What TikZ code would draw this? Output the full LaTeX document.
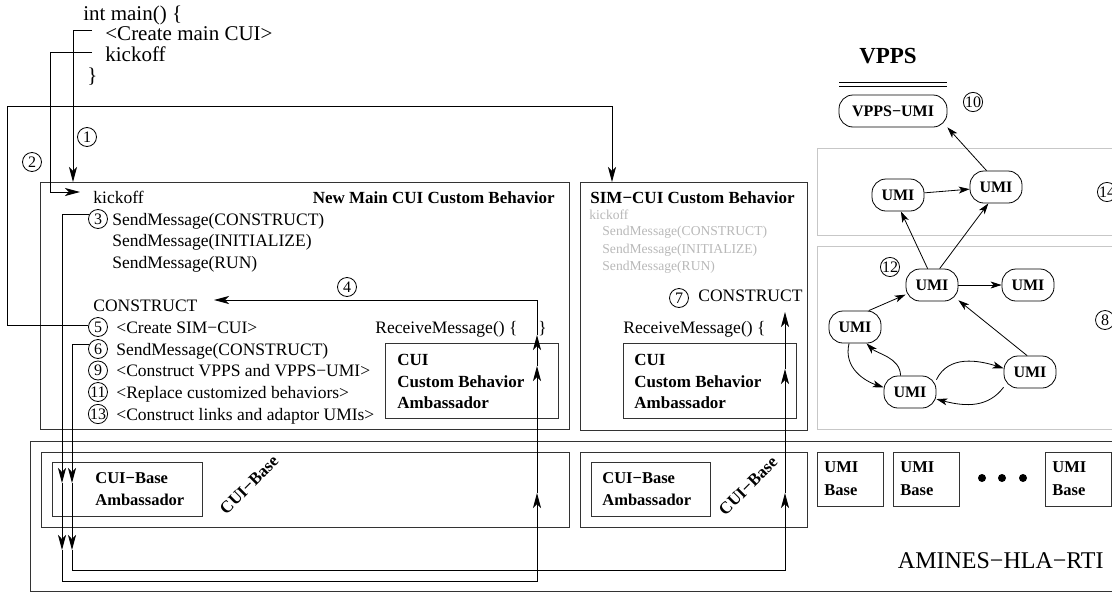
\documentclass[tikz,border=0pt]{standalone}
\usepackage{fontspec}
\setmainfont{Liberation Serif}
\usetikzlibrary{arrows.meta,calc}
\newcommand\fsz[2]{\fontsize{#1}{#2}\selectfont}
\begin{document}
\begin{tikzpicture}[x=1pt,y=-1pt,line width=0.8pt,
  tip/.style={-{Stealth[length=15pt,width=8pt,inset=4pt]}},
  gtip/.style={-{Stealth[length=11pt,width=7pt,inset=3pt]}},
  frame/.style={draw=black!80,anchor=north west,inner sep=0pt,outer sep=0pt},
  gframe/.style={draw=black!22,anchor=north west,inner sep=0pt,outer sep=0pt},
  txt/.style={anchor=base west,inner sep=0pt,font=\fsz{17.5}{21}},
  big/.style={anchor=base west,inner sep=0pt,font=\fsz{21}{25}},
  bld/.style={anchor=base west,inner sep=0pt,font=\fsz{17}{21}\bfseries},
  sbld/.style={anchor=base west,inner sep=0pt,font=\fsz{16.5}{19}\bfseries},
  gtxt/.style={anchor=base west,inner sep=0pt,font=\fsz{13.6}{16},text=black!28},
  num/.style={circle,draw,inner sep=0pt,minimum size=19pt,font=\fsz{16}{16}},
  umi/.style={draw,rounded corners=14pt,minimum width=52pt,minimum height=32pt,inner sep=2pt,font=\fsz{16}{16}\bfseries},
]
\useasboundingbox (0,0) rectangle (1112,592);

% ---------- frames ----------
\node[frame,minimum width=529pt,minimum height=247pt] (mainbox) at (40,182) {};
\node[frame,minimum width=227pt,minimum height=248pt] (simbox) at (580,182) {};
\node[frame,minimum width=173pt,minimum height=75pt] (amb1) at (385,343) {};
\node[frame,minimum width=173pt,minimum height=75pt] (amb2) at (623,343) {};
\node[gframe,minimum width=300pt,minimum height=87pt] (g14) at (817,148) {};
\node[gframe,minimum width=300pt,minimum height=183pt] (g8) at (817,246) {};
\node[frame,minimum width=1090pt,minimum height=150pt] (rti) at (30,441) {};
\node[frame,minimum width=528pt,minimum height=75pt] (base1) at (41,452) {};
\node[frame,minimum width=227pt,minimum height=75pt] (base2) at (580,452) {};
\node[frame,minimum width=150pt,minimum height=54pt] (bamb1) at (52,462) {};
\node[frame,minimum width=119pt,minimum height=54pt] (bamb2) at (591,462) {};
\node[frame,minimum width=66pt,minimum height=54pt] (ub1) at (817,452) {};
\node[frame,minimum width=66pt,minimum height=54pt] (ub2) at (893,452) {};
\node[frame,minimum width=66pt,minimum height=54pt] (ub3) at (1045,452) {};

% ---------- top code ----------
\node[big] (intmain) at (83,20) {int main() \{};
\node[big] (cmain) at (105,40) {<Create main CUI>};
\node[big] (kick0) at (105,61) {kickoff};
\node[big] (close0) at (87,82) {\}};

% ---------- main CUI box ----------
\node[bld,anchor=base east] (title1) at (555,203) {New Main CUI Custom Behavior};
\node[txt] (kick1) at (93,203) {kickoff};
\node[txt] (sm1) at (112,225) {SendMessage(CONSTRUCT)};
\node[txt] (sm2) at (112,246.5) {SendMessage(INITIALIZE)};
\node[txt] (sm3) at (112,268) {SendMessage(RUN)};
\node[txt] (cons) at (93,311) {CONSTRUCT};
\node[txt] (t5) at (116,333) {<Create SIM−CUI>};
\node[txt] (t6) at (116,355) {SendMessage(CONSTRUCT)};
\node[txt] (t9) at (116,376.5) {<Construct VPPS and VPPS−UMI>};
\node[txt] (t11) at (116,398) {<Replace customized behaviors>};
\node[txt] (t13) at (116,420) {<Construct links and adaptor UMIs>};
\node[txt] (recv1) at (375,333) {ReceiveMessage() \{};
\node[txt] (rb1) at (538,333) {\}};
\node[bld] (a1l1) at (397,365) {CUI};
\node[bld] (a1l2) at (397,387) {Custom Behavior};
\node[bld] (a1l3) at (397,408) {Ambassador};

% ---------- SIM-CUI box ----------
\node[bld] (title2) at (590,203) {SIM−CUI Custom Behavior};
\node[gtxt] (gk) at (589,219) {kickoff};
\node[gtxt] (g1) at (602,235) {SendMessage(CONSTRUCT)};
\node[gtxt] (g2) at (602,253) {SendMessage(INITIALIZE)};
\node[gtxt] (g3) at (602,270) {SendMessage(RUN)};
\node[txt] (cons2) at (698,301) {CONSTRUCT};
\node[txt] (recv2) at (623,333) {ReceiveMessage() \{};
\node[bld] (a2l1) at (634,365) {CUI};
\node[bld] (a2l2) at (634,387) {Custom Behavior};
\node[bld] (a2l3) at (634,408) {Ambassador};

% ---------- numbered circles ----------
\node[num] (c1) at (87,137) {1};
\node[num] (c2) at (32,162) {2};
\node[num] (c3) at (98,219) {3};
\node[num] (c4) at (347,287) {4};
\node[num] (c5) at (98,327) {5};
\node[num] (c6) at (98,349) {6};
\node[num] (c9) at (98,370.5) {9};
\node[num] (c11) at (98,392) {11};
\node[num] (c13) at (98,414) {13};
\node[num] (c7) at (679,298) {7};
\node[num] (c10) at (973,102) {10};
\node[num] (c12) at (890,267) {12};
\node[num] (c14) at (1107,192) {14};
\node[num] (c8) at (1105,320) {8};

% ---------- bottom ----------
\node[sbld] (b1l1) at (95,483) {CUI−Base};
\node[sbld] (b1l2) at (95,505) {Ambassador};
\node[sbld] (b2l1) at (602,483) {CUI−Base};
\node[sbld] (b2l2) at (602,505) {Ambassador};
\node[inner sep=0pt,font=\fsz{17}{19}\bfseries,rotate=45] (cb1) at (249,485) {CUI−Base};
\node[inner sep=0pt,font=\fsz{17}{19}\bfseries,rotate=45] (cb2) at (748,486) {CUI−Base};
\node[sbld] (u1a) at (824,472) {UMI};
\node[sbld] (u1b) at (824,495) {Base};
\node[sbld] (u2a) at (900,472) {UMI};
\node[sbld] (u2b) at (900,495) {Base};
\node[sbld] (u3a) at (1052,472) {UMI};
\node[sbld] (u3b) at (1052,495) {Base};
\fill (982,478) circle (4pt) (1002,478) circle (4pt) (1023,478) circle (4pt);
\node[anchor=base east,inner sep=0pt,font=\fsz{24}{28}] (amines) at (1104,568) {AMINES−HLA−RTI};

% ---------- VPPS graph ----------
\node[inner sep=0pt,font=\fsz{23}{23}\bfseries] (vpps) at (888,56) {VPPS};
\draw (839,82) -- (947,82) (839,86) -- (947,86);
\node[umi,minimum width=108pt] (vumi) at (893,111) {VPPS−UMI};
\node[umi] (uA) at (898,195) {UMI};
\node[umi] (uB) at (996,187) {UMI};
\node[umi] (uC) at (932,285) {UMI};
\node[umi] (uD) at (1028,285) {UMI};
\node[umi] (uE) at (855,327) {UMI};
\node[umi] (uF) at (910,392) {UMI};
\node[umi] (uG) at (1030,372) {UMI};
\draw[gtip] (uB.120) -- (vumi.south east);
\draw[gtip] (uA) -- (uB);
\draw[gtip] (uC.105) -- (uA.-80);
\draw[gtip] (uC.65) -- (uB.-115);
\draw[gtip] (uC) -- (uD);
\draw[gtip] (uE.50) -- (uC.200);
\draw[gtip] (uG.100) -- (uC.-30);
\draw[gtip] (uE.-110) .. controls +(-6,25) and +(-18,-6) .. (uF.170);
\draw[gtip] (uF.120) .. controls +(0,-18) and +(10,10) .. (uE.-55);
\draw[gtip] (uF.25) .. controls +(12,-25) and +(-25,-8) .. (uG.172);
\draw[gtip] (uG.-150) .. controls +(-15,20) and +(30,8) .. (uF.-15);

% ---------- connectors ----------
\coordinate (s1) at (92,30);
\coordinate (t1) at (73,182);
\draw[tip] (s1) -| (t1);
\coordinate (s2) at (92,52);
\coordinate (k2) at (50,192);
\coordinate (t2) at (80,192);
\draw[tip] (s2) -| (k2) -- (t2);
\coordinate (k5) at (7,106);
\coordinate (t5e) at (612,182);
\draw[tip] (c5.170) -| (k5) -| (t5e);
% path 3 -> 4
\coordinate (a3a) at (62,483);
\coordinate (a3b) at (62,550);
\coordinate (k3c) at (537,581);
\coordinate (a3c) at (537,493);
\coordinate (a3d) at (537,366);
\coordinate (a3e) at (537,335);
\coordinate (a4) at (214,300);
\draw[tip] (c3.150) -| (a3a);
\draw[tip] (a3a) -- (a3b);
\draw[tip] (a3b) |- (k3c) -- (a3c);
\draw[tip] (a3c) -- (a3d);
\draw[tip] (a3d) -- (a3e);
\draw[tip] (a3e) |- (a4);
% path 6 -> 7
\coordinate (a6a) at (72,483);
\coordinate (a6b) at (72,550);
\coordinate (k6c) at (785,570);
\coordinate (a6c) at (785,493);
\coordinate (a6d) at (785,369);
\coordinate (a6e) at (785,312);
\draw[tip] (c6.150) -| (a6a);
\draw[tip] (a6a) -- (a6b);
\draw[tip] (a6b) |- (k6c) -- (a6c);
\draw[tip] (a6c) -- (a6d);
\draw[tip] (a6d) -- (a6e);
\end{tikzpicture}
\end{document}
